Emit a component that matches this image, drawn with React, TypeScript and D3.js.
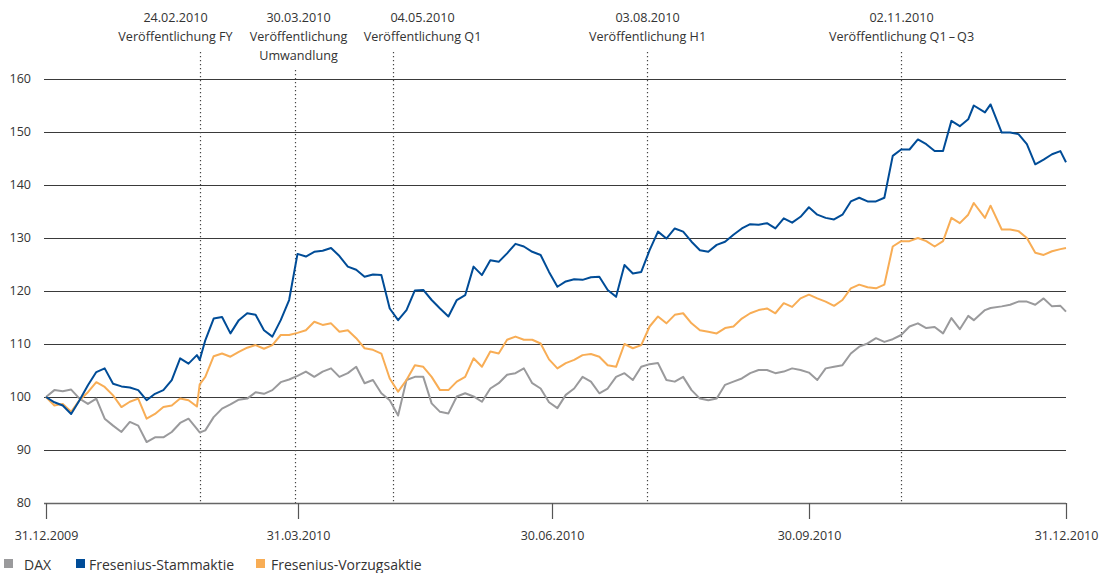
import * as d3 from "d3";
import { useEffect, useRef } from "react";

const WIDTH = 1100;
const HEIGHT = 573;
const X_RANGE = [46, 1066];
const Y_RANGE = [503, 79];
const FONT = "'Open Sans', 'Noto Sans', sans-serif";

const DATES = [
  "2009-12-31", "2010-01-03", "2010-01-06", "2010-01-09", "2010-01-12", "2010-01-15",
  "2010-01-18", "2010-01-21", "2010-01-24", "2010-01-27", "2010-01-30", "2010-02-02",
  "2010-02-05", "2010-02-08", "2010-02-11", "2010-02-14", "2010-02-17", "2010-02-20",
  "2010-02-23", "2010-02-24", "2010-02-26", "2010-03-01", "2010-03-04", "2010-03-07",
  "2010-03-10", "2010-03-13", "2010-03-16", "2010-03-19", "2010-03-22", "2010-03-25",
  "2010-03-28", "2010-03-31", "2010-04-03", "2010-04-06", "2010-04-09", "2010-04-12",
  "2010-04-15", "2010-04-18", "2010-04-21", "2010-04-24", "2010-04-27", "2010-04-30",
  "2010-05-03", "2010-05-06", "2010-05-09", "2010-05-12", "2010-05-15", "2010-05-18",
  "2010-05-21", "2010-05-24", "2010-05-27", "2010-05-30", "2010-06-02", "2010-06-05",
  "2010-06-08", "2010-06-11", "2010-06-14", "2010-06-17", "2010-06-20", "2010-06-23",
  "2010-06-26", "2010-06-29", "2010-07-02", "2010-07-05", "2010-07-08", "2010-07-11",
  "2010-07-14", "2010-07-17", "2010-07-20", "2010-07-23", "2010-07-26", "2010-07-29",
  "2010-08-01", "2010-08-04", "2010-08-07", "2010-08-10", "2010-08-13", "2010-08-16",
  "2010-08-19", "2010-08-22", "2010-08-25", "2010-08-28", "2010-08-31", "2010-09-03",
  "2010-09-06", "2010-09-09", "2010-09-12", "2010-09-15", "2010-09-18", "2010-09-21",
  "2010-09-24", "2010-09-27", "2010-09-30", "2010-10-03", "2010-10-06", "2010-10-09",
  "2010-10-12", "2010-10-15", "2010-10-18", "2010-10-21", "2010-10-24", "2010-10-27",
  "2010-10-30", "2010-11-02", "2010-11-05", "2010-11-08", "2010-11-11", "2010-11-14",
  "2010-11-17", "2010-11-20", "2010-11-23", "2010-11-26", "2010-11-28", "2010-12-02",
  "2010-12-04", "2010-12-08", "2010-12-11", "2010-12-14", "2010-12-17", "2010-12-20",
  "2010-12-23", "2010-12-26", "2010-12-29", "2010-12-31",
];

const DAX = [
  100, 101.3, 101.1, 101.4, 99.7, 98.7, 99.7, 95.9, 94.6, 93.4, 95.3, 94.6,
  91.5, 92.4, 92.4, 93.4, 95.1, 95.9, 94.0, 93.3, 93.7, 96.2, 97.8, 98.6,
  99.5, 99.7, 100.9, 100.6, 101.3, 102.8, 103.3, 104.0, 104.8, 103.8, 104.8, 105.4,
  103.8, 104.5, 105.7, 102.6, 103.2, 100.7, 99.4, 96.5, 103.2, 103.8, 103.8, 98.8,
  97.2, 96.9, 100.1, 100.7, 100.1, 99.1, 101.6, 102.6, 104.2, 104.5, 105.4, 102.6,
  101.6, 99.0, 97.9, 100.4, 101.6, 103.8, 102.9, 100.7, 101.6, 103.8, 104.5, 103.2,
  105.7, 106.2, 106.4, 103.2, 102.9, 103.8, 101.3, 99.7, 99.4, 99.7, 102.3, 102.9,
  103.5, 104.5, 105.1, 105.1, 104.5, 104.8, 105.4, 105.1, 104.6, 103.2, 105.4, 105.7,
  106.0, 108.2, 109.5, 110.1, 111.1, 110.4, 110.9, 111.7, 113.3, 113.9, 113.0, 113.2,
  112.0, 114.9, 112.8, 115.3, 114.5, 116.4, 116.8, 117.1, 117.4, 118.0, 118.0, 117.4,
  118.6, 117.1, 117.2, 116.1,
];

const STAMM = [
  100, 99.0, 98.4, 96.8, 99.4, 102.2, 104.7, 105.4, 102.5, 102.0, 101.8, 101.3,
  99.4, 100.6, 101.3, 103.2, 107.3, 106.3, 107.9, 107.0, 110.7, 114.8, 115.1, 112.0,
  114.5, 115.8, 115.5, 112.6, 111.4, 114.5, 118.3, 127.0, 126.5, 127.4, 127.6, 128.1,
  126.6, 124.6, 124.0, 122.7, 123.1, 123.0, 116.7, 114.5, 116.4, 120.1, 120.2, 118.3,
  116.7, 115.2, 118.3, 119.2, 124.6, 123.0, 125.8, 125.5, 127.1, 128.9, 128.4, 127.4,
  126.8, 123.6, 120.8, 121.8, 122.2, 122.1, 122.6, 122.7, 120.2, 118.9, 124.9, 123.3,
  123.6, 127.7, 131.2, 129.9, 131.8, 131.2, 129.3, 127.7, 127.4, 128.7, 129.3, 130.6,
  131.8, 132.6, 132.5, 132.8, 131.8, 133.7, 132.9, 134.0, 135.8, 134.4, 133.8, 133.5,
  134.4, 136.9, 137.6, 136.9, 136.9, 137.6, 145.5, 146.7, 146.7, 148.6, 147.7, 146.4,
  146.4, 152.1, 151.1, 152.4, 155.0, 153.7, 155.2, 149.9, 149.9, 149.6, 147.7, 143.9,
  144.8, 145.8, 146.4, 144.3,
];

const VORZUG = [
  100, 98.4, 98.7, 97.2, 99.4, 100.9, 102.8, 101.9, 100.3, 98.1, 99.1, 99.7,
  95.9, 96.8, 98.1, 98.4, 99.7, 99.4, 98.2, 102.4, 103.8, 107.7, 108.2, 107.6,
  108.5, 109.3, 109.8, 109.1, 109.8, 111.7, 111.7, 112.1, 112.6, 114.2, 113.6, 113.9,
  112.3, 112.6, 111.1, 109.2, 108.9, 108.2, 103.5, 101.0, 103.2, 106.0, 105.7, 103.8,
  101.3, 101.3, 102.9, 103.8, 107.3, 105.7, 108.6, 108.2, 110.8, 111.4, 110.8, 110.8,
  110.1, 107.1, 105.4, 106.4, 107.0, 107.9, 108.1, 107.6, 106.0, 105.7, 110.0, 109.2,
  109.8, 113.3, 115.2, 113.9, 115.5, 115.8, 113.9, 112.6, 112.3, 112.0, 113.0, 113.3,
  114.8, 115.8, 116.4, 116.7, 115.8, 117.7, 117.0, 118.6, 119.3, 118.6, 118.0, 117.2,
  118.3, 120.5, 121.2, 120.7, 120.5, 121.2, 128.4, 129.4, 129.4, 130.0, 129.4, 128.4,
  129.4, 133.8, 132.8, 134.4, 136.6, 133.8, 136.1, 131.6, 131.6, 131.3, 130.0, 127.2,
  126.8, 127.5, 127.9, 128.1,
];

const SERIES = [
  { name: "DAX", values: DAX, color: "#9a9a9c" },
  { name: "Fresenius-Vorzugsaktie", values: VORZUG, color: "#f8ad55" },
  { name: "Fresenius-Stammaktie", values: STAMM, color: "#004c97" },
];
const LEGEND_ORDER = ["DAX", "Fresenius-Stammaktie", "Fresenius-Vorzugsaktie"];
const LEGEND_BOX_X = [4, 76, 256];
const LEGEND_TEXT_X = [24, 89, 271];

const Y_TICKS = [80, 90, 100, 110, 120, 130, 140, 150, 160];
const X_TICKS = ["2009-12-31", "2010-03-31", "2010-06-30", "2010-09-30", "2010-12-31"];

const EVENT_DATES = ["2010-02-24", "2010-03-30", "2010-05-04", "2010-08-03", "2010-11-02"];
const EVENT_LABELS = [
  ["24.02.2010", "Veröffentlichung FY"],
  ["30.03.2010", "Veröffentlichung", "Umwandlung"],
  ["04.05.2010", "Veröffentlichung Q1"],
  ["03.08.2010", "Veröffentlichung H1"],
  ["02.11.2010", "Veröffentlichung Q1\u2009–\u2009Q3"],
];
// Versatz der Beschriftung gegenüber der Linie
const EVENT_LABEL_DX = [-25, 3, 29, 0, 0];

const parse = d3.timeParse("%Y-%m-%d");
const fmt = d3.timeFormat("%d.%m.%Y");

export default function App() {
  const svgRef = useRef<SVGSVGElement>(null);

  useEffect(() => {
    if (!svgRef.current) return;
    document.body.style.margin = "0";

    const svg = d3.select(svgRef.current);
    svg.selectAll("*").remove();

    const x = d3
      .scaleTime()
      .domain([parse("2009-12-31")!, parse("2010-12-31")!])
      .range(X_RANGE);
    const y = d3.scaleLinear().domain([80, 160]).range(Y_RANGE);

    // Gitterlinien
    svg
      .append("g")
      .selectAll("line")
      .data(Y_TICKS.filter((t) => t > 80))
      .enter()
      .append("line")
      .attr("x1", X_RANGE[0] - 2)
      .attr("x2", X_RANGE[1])
      .attr("y1", (d) => Math.round(y(d)) + 0.5)
      .attr("y2", (d) => Math.round(y(d)) + 0.5)
      .attr("stroke", "#3a3a3a")
      .attr("stroke-width", 1);

    // Y-Beschriftung
    svg
      .append("g")
      .selectAll("text")
      .data(Y_TICKS)
      .enter()
      .append("text")
      .attr("x", 31)
      .attr("y", (d) => y(d))
      .attr("dy", "0.35em")
      .attr("text-anchor", "end")
      .attr("font-family", FONT)
      .attr("font-size", 12.5)
      .attr("fill", "#333")
      .text((d) => d);

    // Ereignislinien
    const events = svg.append("g");
    EVENT_DATES.forEach((ds, i) => {
      const ex = Math.round(x(parse(ds)!)) + 0.5;
      const lines = EVENT_LABELS[i];
      events
        .append("line")
        .attr("x1", ex)
        .attr("x2", ex)
        .attr("y1", lines.length > 2 ? 70 : 52)
        .attr("y2", Y_RANGE[0])
        .attr("stroke", "#444")
        .attr("stroke-width", 1.2)
        .attr("stroke-dasharray", "1.2,2.8");
      lines.forEach((t, j) => {
        events
          .append("text")
          .attr("x", ex + EVENT_LABEL_DX[i])
          .attr("y", 22 + j * 19)
          .attr("text-anchor", "middle")
          .attr("font-family", FONT)
          .attr("font-size", 12.6)
          .attr("fill", "#333")
          .text(t);
      });
    });

    // X-Achse
    const axis = svg.append("g");
    axis
      .append("line")
      .attr("x1", X_RANGE[0] - 2)
      .attr("x2", X_RANGE[1])
      .attr("y1", Y_RANGE[0] + 0.5)
      .attr("y2", Y_RANGE[0] + 0.5)
      .attr("stroke", "#666")
      .attr("stroke-width", 1.4);
    X_TICKS.forEach((ds) => {
      const tx = Math.round(x(parse(ds)!)) + 0.5;
      axis
        .append("line")
        .attr("x1", tx)
        .attr("x2", tx)
        .attr("y1", Y_RANGE[0])
        .attr("y2", Y_RANGE[0] + 16)
        .attr("stroke", "#555")
        .attr("stroke-width", 1.2);
      axis
        .append("text")
        .attr("x", tx)
        .attr("y", 540)
        .attr("text-anchor", "middle")
        .attr("font-family", FONT)
        .attr("font-size", 12.5)
        .attr("fill", "#333")
        .text(fmt(parse(ds)!));
    });

    // Kurslinien
    const dates = DATES.map((d) => parse(d)!);
    SERIES.forEach((s) => {
      const line = d3
        .line<number>()
        .x((_, i) => x(dates[i]))
        .y((v) => y(v));
      svg
        .append("path")
        .attr("d", line(s.values))
        .attr("fill", "none")
        .attr("stroke", s.color)
        .attr("stroke-width", 2)
        .attr("stroke-linejoin", "round");
    });

    // Legende
    const legend = svg.append("g");
    LEGEND_ORDER.forEach((name, i) => {
      const s = SERIES.find((d) => d.name === name)!;
      legend
        .append("rect")
        .attr("x", LEGEND_BOX_X[i])
        .attr("y", 559)
        .attr("width", 9)
        .attr("height", 9)
        .attr("fill", s.color);
      legend
        .append("text")
        .attr("x", LEGEND_TEXT_X[i])
        .attr("y", 570)
        .attr("font-family", FONT)
        .attr("font-size", 14)
        .attr("fill", "#333")
        .text(name);
    });
  }, []);

  return (
    <svg
      ref={svgRef}
      width={WIDTH}
      height={HEIGHT}
      style={{ position: "absolute", left: 0, top: 0, background: "#fff" }}
    ></svg>
  );
}
